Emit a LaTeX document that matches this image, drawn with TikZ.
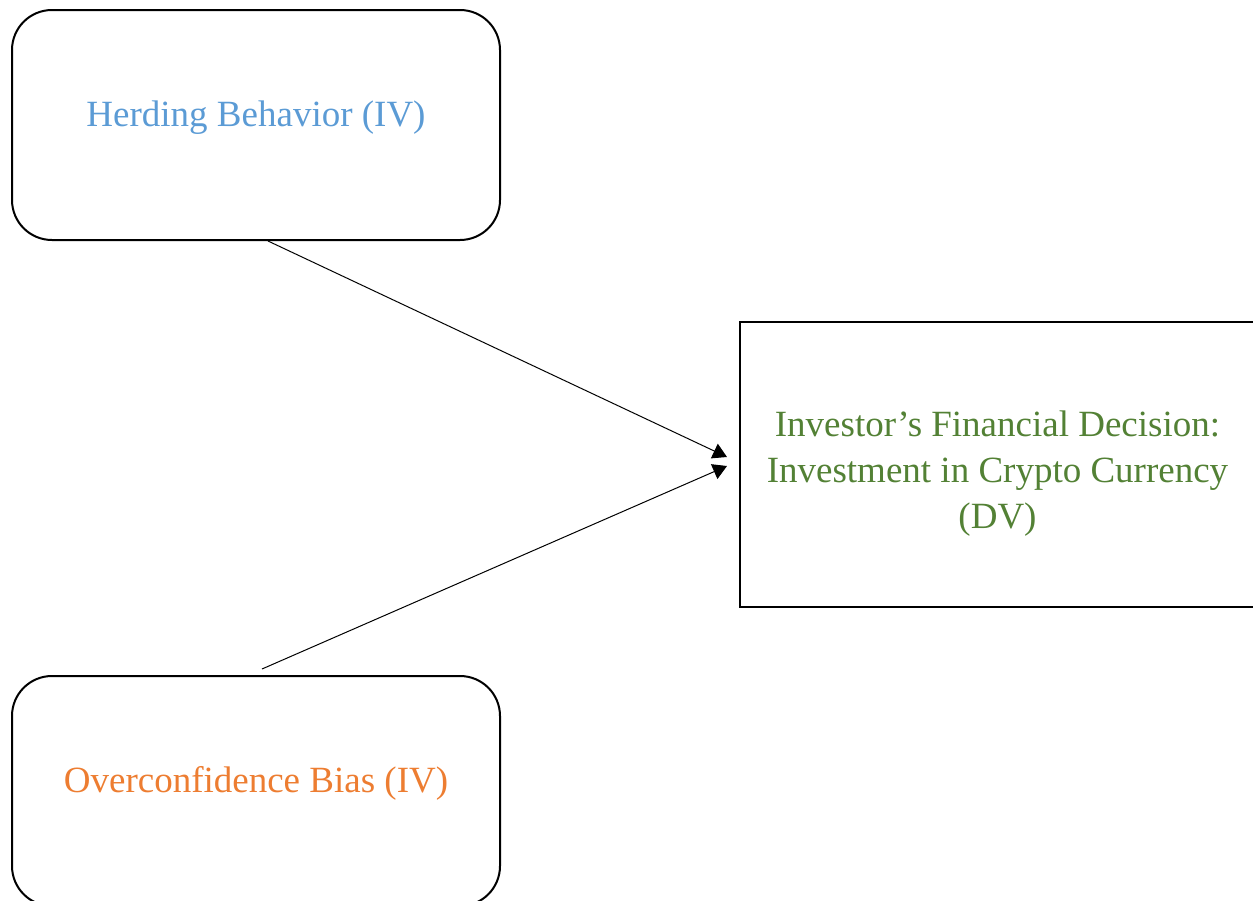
\documentclass[tikz,border=0pt]{standalone}
\usepackage{fontspec}
\setmainfont{Liberation Serif}
\usetikzlibrary{arrows.meta}
\definecolor{ivblue}{HTML}{5B9BD5}
\definecolor{ivorange}{HTML}{ED7D31}
\definecolor{dvgreen}{HTML}{538135}
\begin{document}
\begin{tikzpicture}[x=1pt,y=-1pt,
  ivbox/.style={draw=black,line width=2pt,rounded corners=40pt,minimum width=488pt,minimum height=230pt,inner sep=0pt},
  dvbox/.style={draw=black,line width=2pt,minimum width=515pt,minimum height=285pt,inner sep=0pt},
  lbl/.style={font=\fontsize{37}{46}\selectfont,align=center,inner sep=0pt},
  conn/.style={line width=1pt,-{Triangle[width=16pt,length=14pt]}}]
\useasboundingbox (0,0) rectangle (1253,900);
\node[ivbox] (hb) at (256,125) {};
\node[ivbox] (ob) at (256,791) {};
\node[dvbox] (dv) at (997.5,464.5) {};
\node[lbl,text=ivblue] (hbt) at (256,118) {Herding Behavior (IV)};
\node[lbl,text=ivorange] (obt) at (256,783) {Overconfidence Bias (IV)};
\node[lbl,text=dvgreen] (dvt) at (997.5,474) {Investor’s Financial Decision:\\Investment in Crypto Currency\\(DV)};
\coordinate (t1) at (727,457);
\coordinate (t2) at (727,466);
\draw[conn] (hb.south) ++(12,0) coordinate (s1) (s1) -- (t1);
\draw[conn] (ob.north) ++(6,-6) coordinate (s2) (s2) -- (t2);
\end{tikzpicture}
\end{document}
